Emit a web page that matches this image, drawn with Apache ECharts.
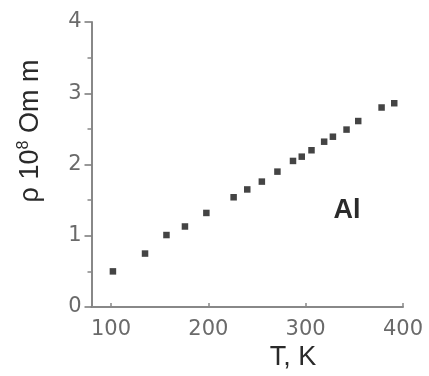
<!DOCTYPE html>
<html>
<head>
<meta charset="utf-8">
<script src="https://cdn.jsdelivr.net/npm/echarts@6/dist/echarts.min.js"></script>
<style>html,body{margin:0;padding:0;background:#fff}#c{width:429px;height:376px}</style>
</head>
<body>
<div id="c"></div>
<script>
// Temperature T (K)
var temperature = [102, 135, 157, 176, 198, 226, 240, 255, 271, 287, 296, 306, 319, 328, 342, 354, 378, 391];
// Resistivity rho (10^8 Om m)
var resistivity = [0.50, 0.75, 1.01, 1.13, 1.32, 1.54, 1.65, 1.76, 1.90, 2.05, 2.11, 2.20, 2.32, 2.39, 2.49, 2.61, 2.80, 2.86];
var xTicks = [100, 200, 300, 400];
var yTicks = [0, 1, 2, 3, 4];

var points = temperature.map(function (t, i) { return [t, resistivity[i]]; });

var chart = echarts.init(document.getElementById('c'), null, {renderer: 'canvas'});
var labelStyle = {fontFamily: 'DejaVu Sans', fontSize: 21, color: '#6a6a6a'};
var sans = 'Liberation Sans';
chart.setOption({
  animation: false,
  backgroundColor: '#fff',
  grid: {left: 91.5, right: 26, top: 22, bottom: 69, containLabel: false},
  xAxis: {
    type: 'value', min: 80, max: 400,
    splitLine: {show: false},
    axisLine: {lineStyle: {color: '#888', width: 2}},
    axisTick: {show: true, inside: true, length: 4, customValues: xTicks, lineStyle: {color: '#888', width: 1.5}},
    axisLabel: Object.assign({margin: 12, customValues: xTicks}, labelStyle)
  },
  yAxis: {
    type: 'value', min: 0, max: 4, interval: 1,
    splitLine: {show: false},
    axisLine: {show: true, lineStyle: {color: '#888', width: 2}},
    axisTick: {show: true, inside: false, length: 7, lineStyle: {color: '#777', width: 1.5}},
    minorTick: {show: true, splitNumber: 2, length: 4, lineStyle: {color: '#888', width: 1.5}},
    axisLabel: Object.assign({margin: 10}, labelStyle)
  },
  series: [{
    type: 'scatter',
    data: points,
    symbol: 'rect',
    symbolSize: 6.5,
    itemStyle: {color: '#151515'}
  }],
  graphic: [
    {type: 'text', x: 293, y: 358, style: {text: 'T, K', fontFamily: sans, fontSize: 27, fill: '#2a2a2a', align: 'center', verticalAlign: 'middle'}},
    {type: 'text', x: 347, y: 211, style: {text: 'Al', fontFamily: sans, fontSize: 27, fontWeight: 'bold', fill: '#2a2a2a', align: 'center', verticalAlign: 'middle'}},
    {type: 'text', x: 31, y: 131, rotation: Math.PI / 2,
      style: {
        text: '{a|ρ 10}{s|8}{a| Om m}',
        align: 'center', verticalAlign: 'middle',
        rich: {
          a: {fontFamily: sans, fontSize: 27, fill: '#2a2a2a', color: '#2a2a2a'},
          s: {fontFamily: sans, fontSize: 16, fill: '#2a2a2a', color: '#2a2a2a', padding: [0, 0, 14, 0]}
        }
      }}
  ]
});
</script>
</body>
</html>
